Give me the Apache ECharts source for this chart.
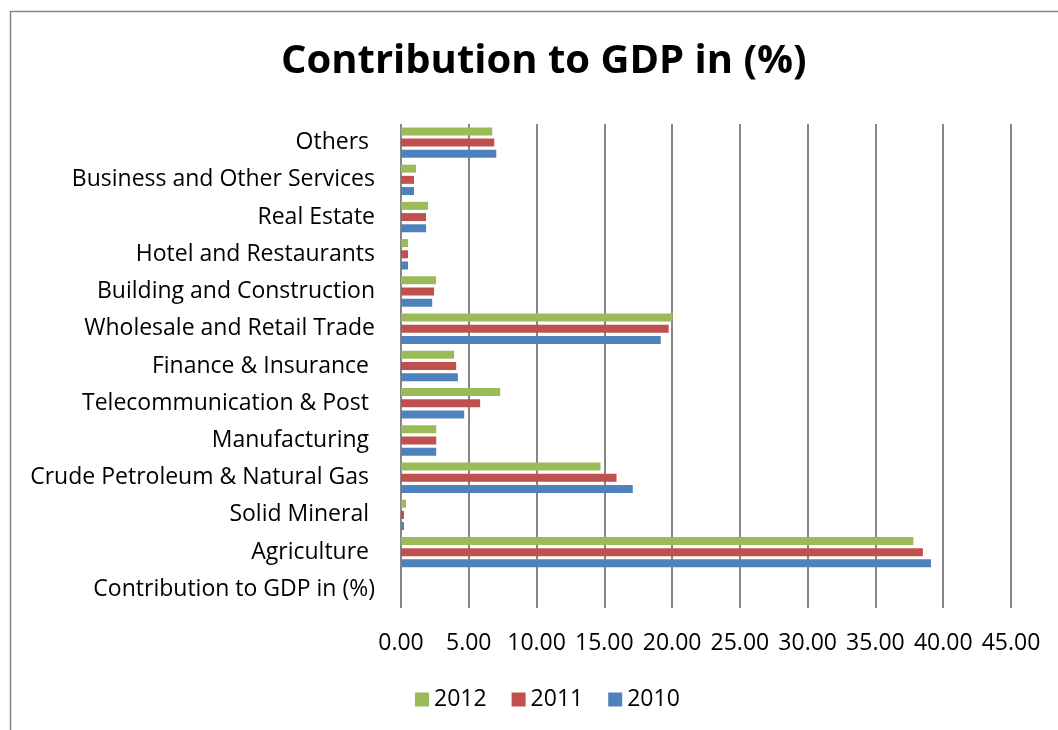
<!DOCTYPE html>
<html>
<head>
<meta charset="utf-8">
<script src="https://cdn.jsdelivr.net/npm/echarts@6/dist/echarts.min.js"></script>
<style>
html,body{margin:0;padding:0;background:#fff;}
#chart{width:1058px;height:730px;}
</style>
</head>
<body>
<div id="chart"></div>
<script>
// Categories from bottom to top
var categories = [
  "Contribution to GDP in (%)",
  "Agriculture ",
  "Solid Mineral ",
  "Crude Petroleum & Natural Gas ",
  "Manufacturing ",
  "Telecommunication & Post ",
  "Finance & Insurance ",
  "Wholesale and Retail Trade",
  "Building and Construction",
  "Hotel and Restaurants",
  "Real Estate",
  "Business and Other Services",
  "Others "
];
var values2010 = [null, 39.1, 0.22, 17.1, 2.6, 4.66, 4.2, 19.16, 2.3, 0.52, 1.85, 0.96, 7.03];
var values2011 = [null, 38.5, 0.22, 15.9, 2.6, 5.84, 4.07, 19.75, 2.44, 0.52, 1.85, 0.96, 6.88];
var values2012 = [null, 37.8, 0.37, 14.72, 2.6, 7.32, 3.92, 20.04, 2.59, 0.52, 2.0, 1.11, 6.73];
var legendNames = ["2012", "2011", "2010"];

var chart = echarts.init(document.getElementById('chart'));
var font = "'Open Sans', 'Liberation Sans', sans-serif";
chart.setOption({
  animation: false,
  backgroundColor: '#fff',
  textStyle: {fontFamily: font, color: '#000'},
  title: {
    text: 'Contribution to GDP in (%)',
    left: 276,
    top: 37,
    textStyle: {fontFamily: font, fontSize: 40, fontWeight: 'bold', color: '#000'}
  },
  graphic: [{
    type: 'polyline',
    shape: {points: [[10.5, 740], [10.5, 11.5], [1070, 11.5]]},
    style: {stroke: '#868686', lineWidth: 1.5, fill: null}
  }],
  legend: {
    data: legendNames,
    top: 683,
    left: 410,
    itemWidth: 14,
    itemHeight: 14,
    itemGap: 25,
    icon: 'rect',
    textStyle: {fontFamily: font, fontSize: 23, color: '#000'}
  },
  grid: {left: 401, right: 47, top: 124, bottom: 122, containLabel: false},
  xAxis: {
    type: 'value',
    min: 0, max: 45, interval: 5,
    axisLine: {show: false},
    axisTick: {show: false},
    axisLabel: {margin: 24, fontSize: 23, color: '#000', fontFamily: font,
      formatter: function (v) { return v.toFixed(2); }},
    splitLine: {show: true, lineStyle: {color: '#868686', width: 2}}
  },
  yAxis: {
    type: 'category',
    data: categories,
    axisLine: {show: false},
    axisTick: {show: false},
    axisLabel: {margin: 26, fontSize: 23, color: '#000', fontFamily: font},
    splitLine: {show: false}
  },
  series: [
    {name: '2012', type: 'bar', data: values2012, barWidth: 8, barGap: '40%', itemStyle: {color: '#9bbb59'}},
    {name: '2011', type: 'bar', data: values2011, barWidth: 8, barGap: '40%', itemStyle: {color: '#c0504d'}},
    {name: '2010', type: 'bar', data: values2010, barWidth: 8, barGap: '40%', itemStyle: {color: '#4f81bd'}}
  ]
});
</script>
</body>
</html>
